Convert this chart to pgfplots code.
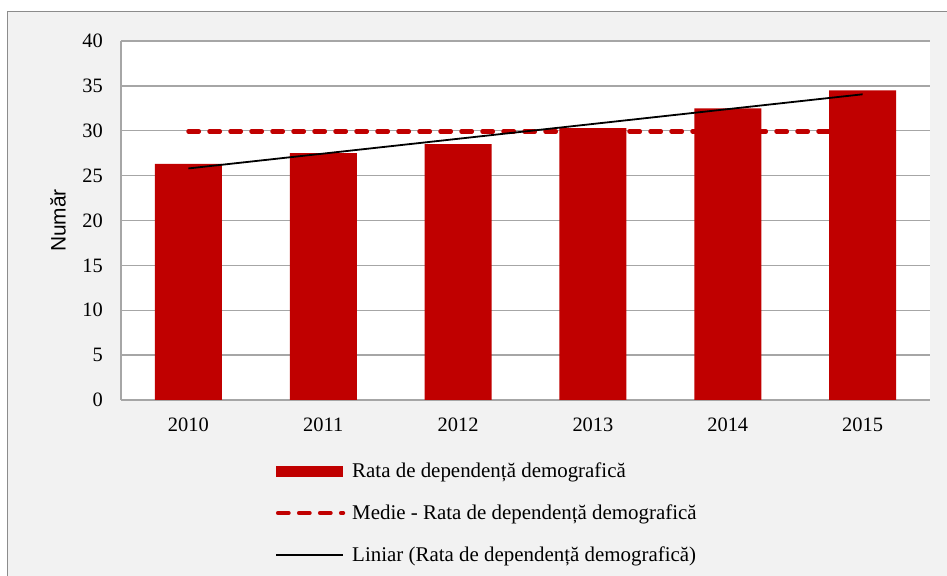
\documentclass[border=0pt]{standalone}
\usepackage{pgfplots}
\pgfplotsset{compat=1.18}
\usepackage{fontspec}
\setmainfont{Liberation Serif}
\newfontfamily\arialfont{Liberation Sans}
\definecolor{barred}{HTML}{C00000}
\definecolor{framebg}{HTML}{F2F2F2}
\definecolor{framegray}{HTML}{8C8C8C}
\definecolor{gridgray}{HTML}{A6A6A6}
\pgfplotsset{
  barlegend/.style={legend image code/.code={\fill[barred] (0bp,-5.5bp) rectangle (67bp,5.5bp);}},
  linelegend/.style={legend image code/.code={\draw[##1] (0bp,0bp) -- (67bp,0bp);}},
  dashlegend/.style={legend image code/.code={\draw[##1] (2bp,0bp) -- (67bp,0bp);}},
}
\begin{document}
\begin{tikzpicture}[x=1bp,y=1bp]
\fill[white] (0,0) rectangle (947,576);
\filldraw[fill=framebg, draw=framegray, line width=1.5bp] (7.5,-10) rectangle (960,564.5);
\begin{axis}[
  at={(121bp,176bp)}, anchor=south west,
  scale only axis, width=809bp, height=359bp,
  xmin=-0.5, xmax=5.5, ymin=0, ymax=40,
  xtick={0,1,2,3,4,5},
  xticklabels={2010,2011,2012,2013,2014,2015},
  ytick={0,5,10,15,20,25,30,35,40},
  axis x line*=bottom, axis y line*=left,
  axis line style={draw=gridgray, line width=1.5bp},
  axis background/.style={fill=white},
  ymajorgrids, major grid style={draw=gridgray, line width=1.3bp},
  major tick length=0pt,
  tick style={draw=none},
  /pgf/number format/assume math mode=true,
  tick label style={font=\fontsize{20.5}{24}\selectfont, inner sep=0pt, text=black},
  yticklabel style={xshift=-18bp},
  xticklabel style={yshift=-18bp},
  ylabel={Număr},
  ylabel style={font=\arialfont\fontsize{21}{24}\selectfont, at={(axis description cs:-0.0779,0.5)}, anchor=center},
  legend style={draw=none, fill=none, at={(axis description cs:0,0)}, anchor=north west,
    xshift=151bp, yshift=-61bp, font=\fontsize{21}{24}\selectfont,
    nodes={inner sep=0pt, anchor=west}, row sep=25.5bp,
    /tikz/every even column/.append style={column sep=9bp}},
  legend cell align=left,
]
% mean line (behind bars)
\addplot[barred, line width=4.3bp, line cap=round, dash pattern=on 10.5bp off 10.5bp, forget plot]
  coordinates {(0,29.93) (5,29.93)};
% bars
\addplot[ybar, bar width=67bp, fill=barred, draw=none, barlegend]
  coordinates {(0,26.3) (1,27.5) (2,28.5) (3,30.3) (4,32.5) (5,34.5)};
\addlegendentry{\hspace{7bp}Rata de dependență demografică}
\addlegendimage{barred, line width=4.3bp, line cap=round, dash pattern=on 10.5bp off 10.5bp, dashlegend}
\addlegendentry{\hspace{7bp}Medie - Rata de dependență demografică}
% linear trend
\addplot[black, line width=1.8bp, linelegend]
  coordinates {(0,25.8) (5,34.06)};
\addlegendentry{\hspace{7bp}Liniar (Rata de dependență demografică)}
\end{axis}
\pgfresetboundingbox
\useasboundingbox (0,0) rectangle (947,576);
\end{tikzpicture}
\end{document}
